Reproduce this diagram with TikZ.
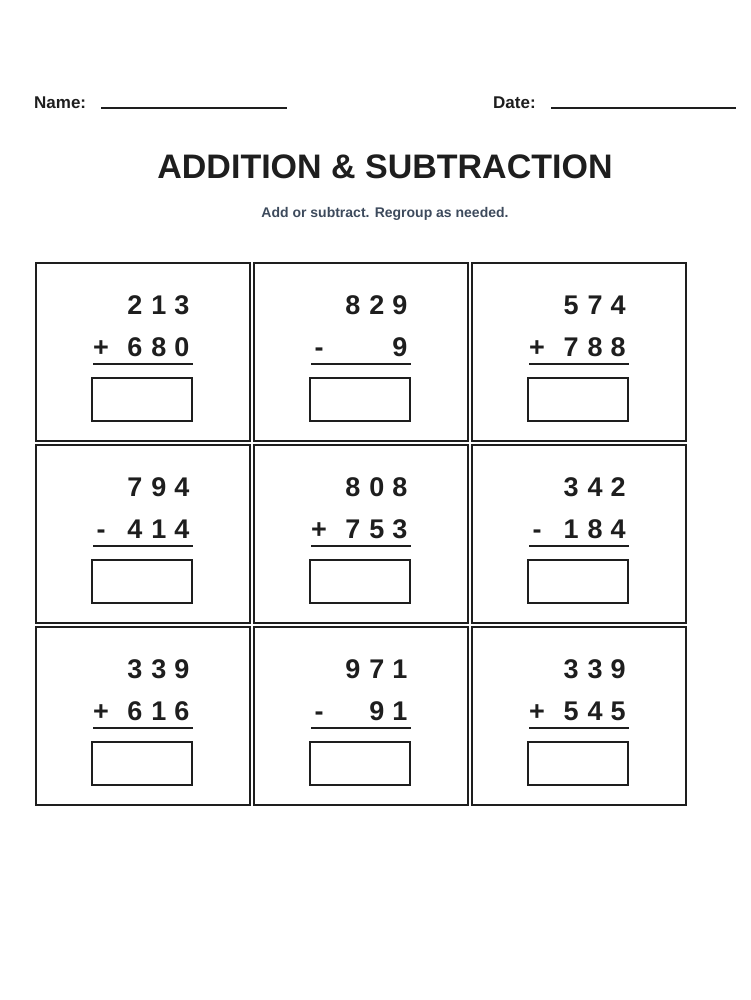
\documentclass[tikz,border=0pt]{standalone}
\usepackage{fontspec}
\setmainfont{Liberation Sans}
\definecolor{ink}{HTML}{1E1E1E}
\definecolor{slate}{HTML}{3D4A5C}
\tikzset{
  cell/.style={draw=ink, line width=2pt},
  answer/.style={draw=ink, line width=2.2pt},
  digit/.style={anchor=base, font=\fontsize{27}{27}\selectfont\bfseries, text=ink, inner sep=0pt},
  label/.style={anchor=base west, font=\fontsize{17}{17}\selectfont\bfseries, text=ink, inner sep=0pt},
}
\begin{document}
\begin{tikzpicture}[x=1pt, y=-1pt]
  \useasboundingbox (0,0) rectangle (750,1000);

  % header
  \node[label] (name) at (34,109) {Name:};
  \coordinate (nameA) at (101,108);
  \coordinate (nameB) at (287,108);
  \draw[ink, line width=1.6pt] (nameA) -- (nameB);
  \node[label] (date) at (493,109) {Date:};
  \coordinate (dateA) at (551,108);
  \coordinate (dateB) at (736,108);
  \draw[ink, line width=1.6pt] (dateA) -- (dateB);

  \node[anchor=base, font=\fontsize{34}{34}\selectfont\bfseries, text=ink] (title) at (385,179) {ADDITION \& SUBTRACTION};
  \node[anchor=base, font=\fontsize{14}{14}\selectfont\bfseries, text=slate] (sub) at (385,218) {Add or subtract. Regroup as needed.};

  % problems
  \foreach \n/\c/\r/\a/\b/\d/\s/\e/\f/\g in {
      1/0/0/2/1/3/+/6/8/0, 2/1/0/8/2/9/-/{}/{}/9, 3/2/0/5/7/4/+/7/8/8,
      4/0/1/7/9/4/-/4/1/4, 5/1/1/8/0/8/+/7/5/3, 6/2/1/3/4/2/-/1/8/4,
      7/0/2/3/3/9/+/6/1/6, 8/1/2/9/7/1/-/{}/9/1, 9/2/2/3/3/9/+/5/4/5} {
    \pgfmathsetmacro\L{36+218*\c}
    \pgfmathsetmacro\T{263+182*\r}
    \draw[cell] (\L,\T) rectangle ++(214,178);
    \node[digit] (top\n a) at (\L+99,\T+51) {\a};
    \node[digit] (top\n b) at (\L+123,\T+51) {\b};
    \node[digit] (top\n c) at (\L+146,\T+51) {\d};
    \node[digit] (sign\n) at (\L+65,\T+93) {\s};
    \node[digit] (bot\n a) at (\L+99,\T+93) {\e};
    \node[digit] (bot\n b) at (\L+123,\T+93) {\f};
    \node[digit] (bot\n c) at (\L+146,\T+93) {\g};
    \draw[ink, line width=2.4pt] (\L+57,\T+101) -- (\L+157,\T+101);
    \draw[answer] (\L+56,\T+115) rectangle (\L+156,\T+158);
  }
\end{tikzpicture}
\end{document}
